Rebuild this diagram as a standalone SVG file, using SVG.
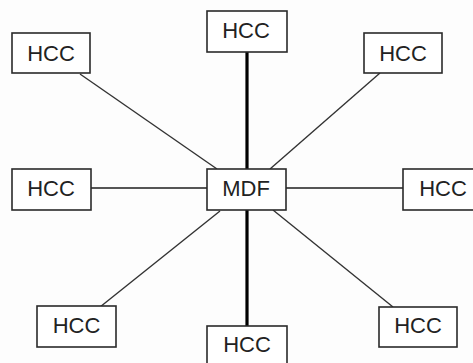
<svg xmlns="http://www.w3.org/2000/svg" width="473" height="363" viewBox="0 0 473 363">
<style>
.box{fill:#fff;stroke:#2a2a2a;stroke-width:1.6}
.lbl{font-family:"Liberation Sans",Arial,sans-serif;font-size:22px;fill:#222;text-anchor:middle}
.thick{stroke:#000;stroke-width:3.2}
.hor{stroke:#555;stroke-width:2}
.diag{stroke:#333;stroke-width:1.4}
</style>
<rect width="473" height="363" fill="#fdfdfd"/>
<g id="connectors" fill="none">
<line class="thick" x1="247" y1="52" x2="247" y2="169"/>
<line class="thick" x1="247" y1="210" x2="247" y2="326"/>
<line class="hor" x1="91" y1="188" x2="207" y2="188"/>
<line class="hor" x1="286" y1="188" x2="403" y2="188"/>
<line class="diag" x1="80" y1="74" x2="217" y2="169"/>
<line class="diag" x1="380" y1="73" x2="270" y2="169"/>
<line class="diag" x1="220" y1="211" x2="100" y2="307"/>
<line class="diag" x1="273" y1="210" x2="393" y2="307"/>
</g>
<g id="mdf"><rect class="box" x="207" y="169" width="79" height="41"/><text class="lbl" x="246" y="196">MDF</text></g>
<g id="hcc-top"><rect class="box" x="207" y="11" width="80" height="41"/><text class="lbl" x="246" y="38">HCC</text></g>
<g id="hcc-top-left"><rect class="box" x="12" y="33" width="78" height="40"/><text class="lbl" x="51" y="61">HCC</text></g>
<g id="hcc-top-right"><rect class="box" x="364" y="33" width="78" height="40"/><text class="lbl" x="403" y="61">HCC</text></g>
<g id="hcc-left"><rect class="box" x="12" y="169" width="79" height="41"/><text class="lbl" x="51" y="196">HCC</text></g>
<g id="hcc-right"><rect class="box" x="403" y="169" width="80" height="41"/><text class="lbl" x="443" y="196">HCC</text></g>
<g id="hcc-bottom-left"><rect class="box" x="37" y="306" width="79" height="41"/><text class="lbl" x="76.5" y="333">HCC</text></g>
<g id="hcc-bottom-right"><rect class="box" x="379" y="307" width="78" height="40"/><text class="lbl" x="418" y="333">HCC</text></g>
<g id="hcc-bottom"><rect class="box" x="207" y="326" width="80" height="45"/><text class="lbl" x="247" y="352">HCC</text></g>
</svg>
